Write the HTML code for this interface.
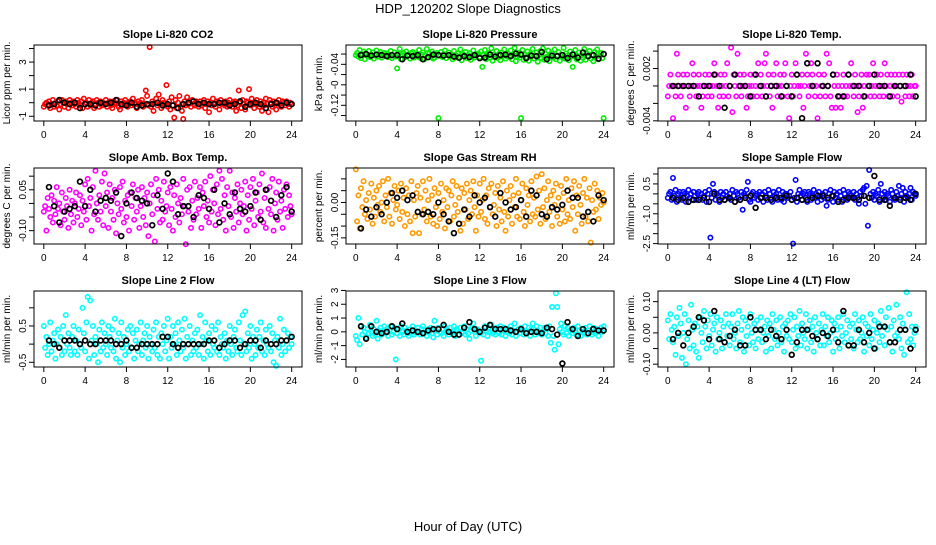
<!DOCTYPE html>
<html><head><meta charset="utf-8"><style>
html,body{margin:0;padding:0;background:#fff;}
svg text{font-family:"Liberation Sans",Arial,sans-serif;fill:#000;}
</style></head><body>
<svg id="chart" width="936" height="540" viewBox="0 0 936 540" xmlns="http://www.w3.org/2000/svg">
<rect x="0" y="0" width="936" height="540" fill="#fff"/>
<text x="468" y="13" font-size="13" text-anchor="middle">HDP_120202  Slope Diagnostics</text>
<text x="468" y="531" font-size="13" text-anchor="middle">Hour of Day (UTC)</text>
</svg>
<script>
// shared categories
const xTicks = [0,4,8,12,16,20,24];
const xTickLabels = ["0","4","8","12","16","20","24"];
const colorHoursStep = 0.125; // colored samples every 7.5 min
const blackHoursStep = 0.5;

// ---- Panel 1: CO2 (units 0.1)
const co2Vals = [-3,-1,0,-2,1,-4,-1,2,-3,0,-2,1,-5,-1,2,0,-3,1,-1,-4,2,0,-2,1,
-1,-3,2,0,-2,1,-4,3,-1,0,-3,2,-2,0,1,-4,-1,2,0,-3,1,-2,0,-1,
2,-3,0,1,-2,-4,1,0,-1,2,-3,-5,1,-2,0,2,-1,-3,0,1,-2,3,-1,0,
-4,1,-2,0,2,-3,-1,9,5,-2,41,-3,1,-6,0,3,-2,6,-1,-4,2,0,-2,13,
-3,1,-5,4,-2,-11,2,-4,0,5,-3,-6,-12,1,-2,4,-1,0,-3,2,-1,-2,1,0,
-3,1,-2,0,2,-4,-1,1,-7,0,-2,3,-1,-3,1,0,-5,2,-1,0,-2,1,-3,0,
2,-1,-3,0,1,-6,-2,9,0,-4,2,-1,-5,1,0,10,-2,3,-1,-4,0,2,-1,-3,
1,-6,0,-2,3,-1,-7,2,0,-3,1,-2,-5,0,2,-1,-3,1,0,-2,1,-1,-3,0,-1];
const co2Black = [-2,-1,2,0,-1,0,-4,-1,-1,-2,0,-1,0,2,-1,-2,0,-3,-2,-1,-1,0,-2,-1,-2,-4,-1,0,1,-1,0,-1,-1,0,0,-2,-1,1,-3,-1,0,-1,-4,-1,0,-2,0,-1];
const co2YTicks = [-1,0,1,2,3,4];
const co2YLabels = ["-1","","1","","3",""];

// ---- Panel 2: Pressure (units 0.001)
const presVals = [-22,-18,-25,-12,-28,-20,-15,-30,-19,-24,-14,-26,-21,-17,-29,-23,-13,-25,-20,-16,-27,-22,-18,-24,
-19,-26,-21,-14,-28,-23,-17,-25,-48,-20,-10,-30,-22,-18,-26,-15,-24,-21,-29,-19,-16,-27,-23,-20,
-25,-12,-28,-21,-17,-30,-22,-10,-26,-19,-24,-15,-29,-27,-21,-18,-145,-23,-16,-26,-20,-13,-28,-22,
-17,-25,-21,-30,-14,-27,-23,-19,-26,-11,-32,-20,-24,-16,-28,-22,-18,-31,-25,-13,-27,-21,-20,-19,
-26,-15,-45,-22,-12,-30,-24,-18,-27,-9,-33,-21,-25,-14,-28,-20,-32,-17,-23,-11,-29,-24,-19,-26,
-13,-30,-22,-8,-34,-25,-18,-27,-145,-12,-31,-21,-26,-15,-33,-20,-24,-10,-29,-23,-17,-35,-22,-14,
-28,-9,-31,-20,-25,-13,-34,-22,-18,-27,-11,-30,-24,-16,-33,-21,-26,-8,-29,-19,-23,-32,-15,-25,
-45,-20,-12,-30,-24,-17,-33,-22,-27,-10,-31,-19,-25,-14,-29,-21,-34,-16,-26,-11,-30,-23,-18,-28,-145];
const presBlack = [-22,-20,-23,-21,-22,-24,-22,-22,-30,-23,-24,-22,-30,-26,-21,-22,-23,-22,-25,-27,-24,-26,-22,-28,-27,-21,-25,-22,-21,-24,-19,-21,-28,-23,-24,-16,-30,-23,-24,-22,-28,-21,-27,-17,-24,-22,-29,-20];
const presYTicks = [-0.14,-0.12,-0.10,-0.08,-0.06,-0.04,-0.02];
const presYLabels = ["","-0.12","","-0","","-0.04",""];

// ---- Panel 3: Li-820 Temp (units 0.0001)
const tempVals = [-12,0,13,0,-37,0,-12,37,13,0,-12,0,13,0,-25,13,0,-12,0,26,13,0,-12,0,
13,0,-25,-12,0,13,0,-12,13,0,-12,0,26,13,0,-25,-12,13,0,-12,13,0,26,-12,
0,44,-30,13,0,-12,37,0,13,-12,0,13,0,-25,-12,0,13,0,-12,13,0,-12,26,0,
13,-12,0,26,37,0,13,-12,0,-25,13,0,26,-12,0,13,0,-12,13,26,0,-12,-37,0,
13,-12,0,26,13,0,-12,0,13,-25,0,37,13,-12,0,26,13,0,-12,0,-37,13,-12,0,
0,13,-12,37,0,26,-12,-25,13,0,-25,13,0,-12,-25,0,13,-12,0,-12,13,0,26,0,
-12,13,0,-30,-12,0,13,-25,0,-12,13,0,13,-12,0,26,-12,0,13,0,-12,13,0,-12,
26,0,13,-12,0,13,-12,0,13,0,-12,13,0,-18,13,0,-12,13,0,-12,0,13,-12,0,0];
const tempBlack = [0,0,0,0,0,-12,0,0,13,0,-25,0,13,0,0,-12,13,0,-12,0,0,-12,0,-12,13,-37,26,0,26,0,0,13,-12,-12,13,0,0,-12,0,13,0,0,-12,0,0,0,13,-12];
const tempYTicks = [-0.004,-0.002,0,0.002,0.004];
const tempYLabels = ["-0.004","","","0.002",""];

// ---- Panel 4: Amb box temp (units 0.01)
const ambVals = [-3,-1,-10,2,-2,-5,3,-7,1,-4,6,-2,0,-8,4,-3,-6,2,-1,-9,5,-4,1,-7,
0,4,-5,-2,3,-8,1,-3,7,-6,9,-1,2,-10,6,-4,12,0,-6,3,-3,8,-8,11,
-1,4,-9,7,-3,2,-6,5,-11,0,-4,6,-2,8,-7,1,-5,3,-10,4,-1,7,-6,2,
-3,5,-9,-1,6,-5,2,-8,4,-12,0,7,-4,3,-14,9,-2,5,-7,1,-6,8,-3,-1,
4,-8,6,-2,-10,3,-5,7,0,-7,2,-4,9,-1,-15,5,-3,6,-9,1,-6,8,-4,2,
-2,6,-9,4,-1,8,-5,1,-7,10,-3,5,0,-8,7,-4,12,-2,9,-6,3,-10,6,-1,
12,-5,4,-9,2,-3,7,-7,0,5,-4,-1,8,-10,3,-6,6,-2,9,-8,1,4,-5,7,
-3,11,-7,2,-9,5,-2,6,-4,9,-10,0,4,-6,8,-3,1,-9,5,-2,7,-5,3,-1,-4];
const ambBlack = [6,-1,-7,-3,-2,-1,8,-1,5,-3,1,2,1,4,-12,0,4,2,1,0,-8,3,-2,11,8,-4,-1,-1,-5,3,2,-2,5,-7,0,-4,4,-2,-3,-1,4,-6,5,1,-5,3,6,-3];
const ambYTicks = [-0.10,-0.05,0,0.05,0.10];
const ambYLabels = ["-0.10","","","0.05",""];

// ---- Panel 5: Gas stream RH (units 0.01)
const rhVals = [14,-8,3,-11,6,-2,9,-5,1,-7,4,-3,8,-9,2,-6,5,-1,7,-4,0,9,-8,3,
-2,10,-6,4,-9,1,7,-3,-1,5,-7,8,-4,2,-10,6,-5,3,-8,9,-13,1,-6,4,
7,-13,2,-5,9,-3,5,-8,1,10,-6,3,-9,6,-2,-10,4,-7,8,-4,1,-11,6,-2,
5,-8,3,9,-6,-1,7,-4,2,-12,6,-9,4,-3,8,-7,1,5,-5,9,-2,-12,3,-6,
8,-4,1,10,-7,3,-9,6,-2,8,-5,-1,4,-10,7,-3,2,-8,9,-4,-12,5,-6,1,
7,-9,3,-2,10,-6,4,-7,1,8,-4,-10,6,-1,3,-8,9,-5,2,-6,11,-3,5,-9,
12,-2,6,-7,1,9,-4,3,-10,5,-1,8,-6,2,-9,7,-3,4,-8,10,-5,1,-7,6,
-2,9,-12,3,-5,7,-1,-9,4,10,-6,2,-8,6,-17,1,-4,8,-3,5,-7,2,-1,4,0];
const rhBlack = [-11,-3,-6,-2,-5,0,4,2,5,1,3,-4,-5,-4,-5,0,-5,-8,-13,-9,-3,-6,3,0,2,-2,-6,4,0,-3,-2,1,-6,5,3,-5,-6,-2,-3,-1,5,2,2,-6,-4,-8,3,1];
const rhYTicks = [-0.15,-0.10,-0.05,0,0.05,0.10];
const rhYLabels = ["-0.15","","","0.00","",""];

// ---- Panel 6: Sample flow (units 0.1)
const sfVals = [-2,0,1,-3,8,-1,2,-4,0,1,-2,-3,1,0,-4,-1,2,-2,0,-3,1,-1,-3,0,
1,-2,0,-3,-1,1,-4,0,2,-22,-2,5,1,-3,0,-1,-4,1,-2,0,-3,1,-1,-2,
0,-3,2,-1,-4,1,0,-2,-3,1,-8,0,-1,2,6,-3,-4,0,1,-2,-1,0,-3,1,
-2,0,-4,1,-1,-3,2,0,-2,-4,1,-1,0,-3,2,-2,-3,1,-4,0,0,-2,-1,1,
-3,-25,-2,7,-4,0,2,-1,-3,0,1,-2,-4,1,0,-3,-1,2,-2,0,-4,1,-1,-3,
0,-2,1,-6,-3,0,2,-1,-4,1,-2,0,-3,1,-1,-4,2,0,-2,-3,1,0,-1,-2,
1,-3,0,-2,-5,1,-1,2,3,-5,4,-16,12,0,-2,1,-3,0,-1,2,-4,5,0,-2,
1,-3,0,-1,-4,2,0,-2,-3,1,-1,4,-2,0,3,-4,1,-1,-2,0,3,-3,1,0,-1];
const sfBlack = [-2,-3,-2,-4,-3,-3,-2,-4,0,-3,-3,-2,-4,-3,-2,-1,-7,-2,-2,-3,-2,-2,-1,-3,-2,-3,-3,-2,-1,-1,-2,-1,-4,-3,-2,-2,-3,-1,-2,9,-3,-3,-6,-2,-3,-2,-3,0];
const sfYTicks = [-2.5,-2.0,-1.5,-1.0,-0.5,0,0.5,1.0];
const sfYLabels = ["-2.5","","","-1.0","","","0.5",""];

// ---- Panel 7: Line 2 flow (units 0.1)
const l2Vals = [5,-1,2,-3,0,6,-2,1,3,-4,0,4,-1,2,-3,5,-2,8,0,3,-1,-3,2,5,
-2,1,-3,4,0,-1,10,3,-2,6,13,-4,12,1,5,-3,2,0,-5,4,-2,6,-1,3,
0,-3,5,2,-1,4,-2,7,-4,1,3,-5,6,-1,2,-3,0,4,-2,5,-1,3,-4,1,
4,-2,0,6,-3,1,3,-1,5,-4,2,0,-2,4,-1,6,-3,2,-4,3,0,5,-2,1,
7,-4,2,-1,5,0,3,-3,6,1,-2,4,-1,7,-4,2,0,5,-3,1,-2,3,-1,4,
-3,8,0,2,-4,6,1,-2,3,-3,5,0,-1,4,-2,6,-3,2,0,-1,3,-4,1,-2,
5,0,-3,2,4,-1,-2,6,1,-3,8,0,9,-2,3,-1,5,-4,2,0,-3,4,-1,2,
6,-2,1,-3,4,0,-1,5,-2,3,-5,1,-6,2,-1,7,-3,0,4,-2,1,3,-1,2,0];
const l2Black = [1,0,-1,1,1,1,0,1,0,0,1,1,1,0,0,1,-1,-1,0,0,0,0,2,2,0,-1,0,0,0,0,0,1,1,-1,0,1,1,-1,0,1,1,-1,1,0,0,1,1,2];
const l2YTicks = [-0.5,0,0.5,1.0];
const l2YLabels = ["-0.5","","0.5",""];

// ---- Panel 8: Line 3 flow (units 0.1)
const l3Vals = [-3,-6,10,-9,4,-2,3,0,-4,2,-1,5,0,-3,2,-2,8,-5,1,3,-2,0,4,-1,
2,-3,1,4,-2,0,3,-20,-1,2,-3,4,0,-2,3,1,-1,-3,2,0,4,-2,1,-1,
3,0,-2,2,4,-1,1,-3,2,0,3,-1,-4,8,1,-2,3,0,-1,2,-3,4,0,1,
-2,3,0,-1,4,-3,2,1,-2,3,-1,0,4,-2,2,-1,-5,1,3,6,0,-3,2,1,
-1,-21,0,-2,4,1,-3,2,0,5,-1,2,-2,3,0,-1,4,-2,1,3,-3,0,2,-1,
4,-2,1,6,-3,0,2,-1,3,1,-2,4,0,-1,3,-3,2,6,0,-2,4,1,-1,3,
-2,0,3,-1,2,-3,4,-8,18,-3,-13,28,18,-9,2,6,0,-2,4,-1,3,-3,1,2,
-1,3,0,-2,4,1,-3,2,0,-1,3,-2,1,4,0,-2,3,-1,2,0,-3,1,3,0,4];
const l3Black = [4,-5,4,0,-1,0,4,2,6,0,1,0,-1,1,2,2,5,0,-2,-2,3,7,2,0,3,5,2,2,2,1,0,2,-1,0,0,-1,3,2,-2,-23,7,2,-3,2,-1,2,1,1];
const l3YTicks = [-2,-1,0,1,2,3];
const l3YLabels = ["-2","-1","0","1","2","3"];

// ---- Panel 9: Line 4 (LT) flow (units 0.01)
const l4Vals = [4,-2,6,1,-3,2,-7,5,-1,8,3,-8,0,6,-10,-2,4,-5,9,1,-4,3,-6,2,
-8,5,0,-3,7,2,-5,4,-1,6,-4,1,3,-6,5,-2,0,4,-5,2,-3,6,-1,3,
-4,2,6,-2,0,-5,3,7,-3,1,5,-6,4,-1,2,-4,6,0,-3,3,-5,4,-2,1,
5,-3,0,2,-6,4,-1,3,-5,6,1,-2,4,-4,0,5,-3,2,-6,3,-1,4,-2,6,
-3,1,5,-5,2,-1,7,-4,3,0,-2,6,-5,1,4,-3,2,-6,5,0,-2,3,-4,1,
6,-4,2,-1,5,-3,0,4,-6,3,-2,1,5,-5,2,-1,6,-3,0,4,-4,2,-2,3,
-5,6,1,-3,4,-2,0,5,-6,3,-1,2,-4,6,-2,1,4,-5,0,3,-3,7,-1,2,
-4,5,1,8,-3,2,-6,4,-1,9,0,-2,5,-5,3,-7,1,13,-3,6,-2,2,-4,0,2];
const l4Black = [-2,0,-4,0,2,5,4,-2,7,-2,-3,-1,1,-4,-4,5,1,1,-2,1,-1,-2,1,-7,-3,1,1,-1,-2,0,-1,1,-3,7,-4,-4,1,-3,0,-5,2,2,-3,-3,1,1,-5,1];
const l4YTicks = [-0.10,-0.05,0,0.05,0.10];
const l4YLabels = ["-0.10","","0.00","","0.10"];

const NS = "http://www.w3.org/2000/svg";
const svg = document.getElementById('chart');
const X_DOMAIN = [-0.95, 25.0];
const PW = 268, PH = 76;

const panels = [
 {key:'co2', title:'Slope Li-820 CO2', ylab:'Licor ppm per min.', left:34, top:45, dom:[-1.35,4.26], unit:0.1, vals:co2Vals, black:co2Black, ticks:co2YTicks, labels:co2YLabels, color:'#ff0000'},
 {key:'pressure', title:'Slope Li-820 Pressure', ylab:'kPa per min.', left:346, top:45, dom:[-0.1506,-0.0023], unit:0.001, vals:presVals, black:presBlack, ticks:presYTicks, labels:presYLabels, color:'#00ee00'},
 {key:'li820-temp', title:'Slope Li-820 Temp.', ylab:'degrees C per min.', left:658, top:45, dom:[-0.00402,0.0047], unit:0.0001, vals:tempVals, black:tempBlack, ticks:tempYTicks, labels:tempYLabels, color:'#ff00ff'},
 {key:'amb-temp', title:'Slope Amb. Box Temp.', ylab:'degrees C per min.', left:34, top:168, dom:[-0.149,0.130], unit:0.01, vals:ambVals, black:ambBlack, ticks:ambYTicks, labels:ambYLabels, color:'#ff00ff'},
 {key:'rh', title:'Slope Gas Stream RH', ylab:'percent per min.', left:346, top:168, dom:[-0.176,0.146], unit:0.01, vals:rhVals, black:rhBlack, ticks:rhYTicks, labels:rhYLabels, color:'#ff9900'},
 {key:'sample-flow', title:'Slope Sample Flow', ylab:'ml/min per min.', left:658, top:168, dom:[-2.52,1.3], unit:0.1, vals:sfVals, black:sfBlack, ticks:sfYTicks, labels:sfYLabels, color:'#0000ff'},
 {key:'line2', title:'Slope Line 2 Flow', ylab:'ml/min per min.', left:34, top:291, dom:[-0.63,1.463], unit:0.1, vals:l2Vals, black:l2Black, ticks:l2YTicks, labels:l2YLabels, color:'#00ffff'},
 {key:'line3', title:'Slope Line 3 Flow', ylab:'ml/min per min.', left:346, top:291, dom:[-2.55,2.96], unit:0.1, vals:l3Vals, black:l3Black, ticks:l3YTicks, labels:l3YLabels, color:'#00ffff'},
 {key:'line4', title:'Slope Line 4 (LT) Flow', ylab:'ml/min per min.', left:658, top:291, dom:[-0.109,0.134], unit:0.01, vals:l4Vals, black:l4Black, ticks:l4YTicks, labels:l4YLabels, color:'#00ffff'}
];

function mk(tag, attrs, parent){
  const e = document.createElementNS(NS, tag);
  for (const k in attrs) e.setAttribute(k, attrs[k]);
  (parent||svg).appendChild(e);
  return e;
}

panels.forEach(p => {
  const g = mk('g', {});
  
  
  const xs = v => p.left + (v - X_DOMAIN[0]) / (X_DOMAIN[1] - X_DOMAIN[0]) * PW;
  const ys = v => p.top + PH - (v - p.dom[0]) / (p.dom[1] - p.dom[0]) * PH;
  const bottom = p.top + PH;

  const t = mk('text', {x: p.left + PW/2, y: p.top - 7, 'font-size': 11, 'font-weight': 'bold', 'text-anchor': 'middle'}, g);
  t.textContent = p.title;
  
  

  const yl = mk('text', {x: 0, y: 0, 'font-size': 10, 'text-anchor': 'middle', transform: `translate(${p.left-24},${p.top+PH/2}) rotate(-90)`}, g);
  yl.textContent = p.ylab;
  
  

  const cg = mk('g', {}, g);
  
  
  p.vals.forEach((v, i) => {
    const c = mk('circle', {cx: xs(i*colorHoursStep).toFixed(2), cy: ys(v*p.unit).toFixed(2), r: 2.2, fill: 'none', stroke: p.color, 'stroke-width': 1.6}, cg);
    
    
  });
  p.black.forEach((v, i) => {
    const c = mk('circle', {cx: xs((i+1)*blackHoursStep).toFixed(2), cy: ys(v*p.unit).toFixed(2), r: 2.4, fill: 'none', stroke: '#000', 'stroke-width': 1.7}, cg);
    
    
  });

  const b = mk('rect', {x: p.left, y: p.top, width: PW, height: PH, fill: 'none', stroke: '#000', 'stroke-width': 1}, g);
  
  

  const xa = mk('g', {}, g);
  
  
  xTicks.forEach((tv, i) => {
    const x = xs(tv);
    mk('line', {x1: x, x2: x, y1: bottom, y2: bottom + 5, stroke: '#000', 'stroke-width': 1}, xa);
    const lt = mk('text', {x: x, y: bottom + 17, 'font-size': 10, 'text-anchor': 'middle'}, xa);
    lt.textContent = xTickLabels[i];
    
    
  });

  const ya = mk('g', {}, g);
  
  
  p.ticks.forEach((tv, i) => {
    const y = ys(tv);
    mk('line', {x1: p.left - 5, x2: p.left, y1: y, y2: y, stroke: '#000', 'stroke-width': 1}, ya);
    if (p.labels[i]) {
      const lt = mk('text', {x: 0, y: 0, 'font-size': 10, 'text-anchor': 'middle', transform: `translate(${p.left-8},${y}) rotate(-90)`}, ya);
      lt.textContent = p.labels[i];
      
      
    }
  });
});
</script>
</body></html>
